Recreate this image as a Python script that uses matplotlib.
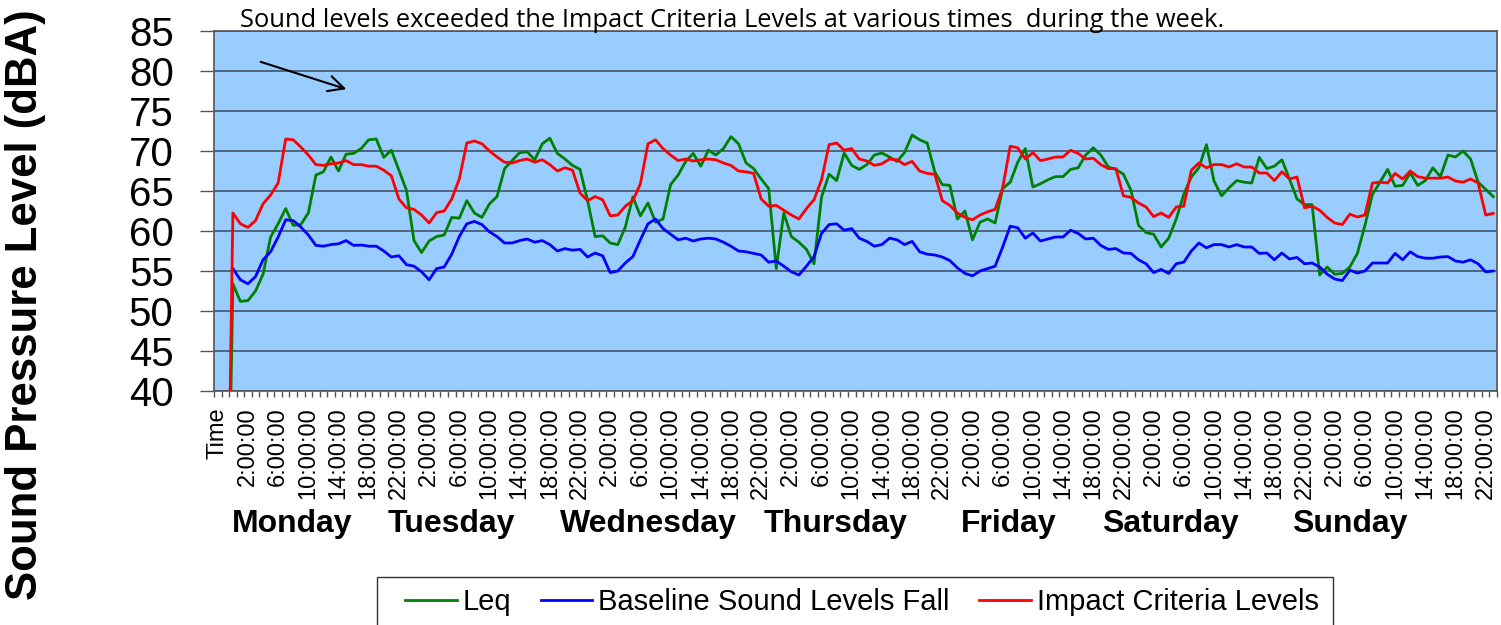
import numpy as np
import matplotlib
matplotlib.use('Agg')
import matplotlib.pyplot as plt
from matplotlib.patches import Rectangle

plt.rcParams['font.family'] = ['Liberation Sans', 'DejaVu Sans']

nan = np.nan

# spreadsheet rows ahead of the hourly data: "Time" header (blank) and a row read as 0
LEQ_HEAD = [nan, 0.0]
BASELINE_HEAD = [nan, nan]
IMPACT_HEAD = [nan, 0.0]

# hourly readings, Monday 0:00 .. Sunday 23:00 (dBA)
LEQ = [
    53.4, 51.2, 51.3, 52.5, 54.6, 59.25, 60.9, 62.8, 60.7, 60.8, 62.25, 67.0,
    67.4, 69.25, 67.5, 69.6, 69.7, 70.3, 71.4, 71.5, 69.2, 70.1, 67.6, 65.1,
    58.8, 57.3, 58.75, 59.3, 59.5, 61.7, 61.6, 63.8, 62.25, 61.7, 63.4, 64.3,
    67.8, 68.8, 69.8, 69.9, 68.9, 70.9, 71.6, 69.7, 69.0, 68.2, 67.7, 63.8,
    59.3, 59.4, 58.5, 58.3, 60.5, 64.25, 61.9, 63.5, 61.1, 61.5, 65.8, 67.0,
    68.7, 69.7, 68.1, 70.1, 69.5, 70.3, 71.8, 70.9, 68.5, 67.8, 66.5, 65.3,
    55.3, 62.25, 59.3, 58.6, 57.7, 55.9, 64.25, 67.1, 66.3, 69.75, 68.2, 67.7,
    68.3, 69.5, 69.75, 69.25, 68.7, 69.8, 72.0, 71.4, 71.0, 67.4, 65.8, 65.7,
    61.5, 62.5, 58.9, 61.1, 61.5, 61.0, 65.3, 66.1, 68.6, 70.3, 65.5, 65.9,
    66.4, 66.8, 66.8, 67.7, 67.9, 69.5, 70.4, 69.5, 68.0, 67.7, 67.1, 65.1,
    60.7, 59.8, 59.6, 58.0, 59.1, 61.5, 64.6, 66.75, 67.9, 70.8, 66.25, 64.4,
    65.4, 66.3, 66.1, 66.0, 69.2, 67.8, 68.1, 68.9, 66.5, 64.0, 63.3, 63.3,
    54.5, 55.5, 54.6, 54.7, 55.5, 57.2, 60.7, 64.6, 66.1, 67.7, 65.6, 65.7,
    67.25, 65.7, 66.3, 67.9, 66.8, 69.5, 69.25, 70.0, 69.0, 66.1, 65.2, 64.3,
]

BASELINE = [
    55.3, 53.9, 53.4, 54.3, 56.4, 57.4, 59.25, 61.4, 61.3, 60.5, 59.5, 58.2,
    58.1, 58.3, 58.4, 58.8, 58.2, 58.25, 58.1, 58.1, 57.5, 56.75, 56.9, 55.8,
    55.6, 54.9, 53.9, 55.3, 55.5, 57.1, 59.3, 60.9, 61.2, 60.8, 59.9, 59.3,
    58.5, 58.5, 58.8, 59.0, 58.6, 58.8, 58.3, 57.5, 57.8, 57.6, 57.7, 56.75,
    57.25, 56.9, 54.8, 55.0, 56.0, 56.8, 58.9, 60.9, 61.5, 60.3, 59.6, 58.9,
    59.1, 58.75, 59.0, 59.1, 59.0, 58.6, 58.1, 57.5, 57.4, 57.2, 57.0, 56.1,
    56.25, 55.6, 54.9, 54.5, 55.6, 56.8, 59.7, 60.8, 60.9, 60.1, 60.3, 59.1,
    58.7, 58.1, 58.3, 59.1, 58.9, 58.3, 58.7, 57.4, 57.1, 57.0, 56.75, 56.3,
    55.4, 54.7, 54.4, 55.0, 55.3, 55.6, 58.0, 60.6, 60.4, 59.1, 59.75, 58.75,
    59.0, 59.25, 59.25, 60.1, 59.7, 59.0, 59.1, 58.2, 57.7, 57.8, 57.25, 57.2,
    56.4, 55.9, 54.8, 55.2, 54.7, 55.9, 56.1, 57.5, 58.5, 57.9, 58.3, 58.3,
    58.0, 58.3, 58.0, 58.0, 57.2, 57.25, 56.4, 57.25, 56.5, 56.7, 55.9, 56.0,
    55.5, 54.6, 54.0, 53.8, 55.1, 54.75, 55.0, 56.0, 56.0, 56.0, 57.2, 56.4,
    57.4, 56.8, 56.6, 56.6, 56.75, 56.8, 56.25, 56.1, 56.4, 55.9, 54.9, 55.0,
]

IMPACT = [
    62.25, 60.9, 60.45, 61.3, 63.4, 64.5, 66.0, 71.5, 71.4, 70.5, 69.5, 68.3,
    68.2, 68.4, 68.5, 68.8, 68.3, 68.3, 68.1, 68.1, 67.6, 66.9, 64.0, 62.9,
    62.7, 62.0, 61.0, 62.3, 62.5, 64.0, 66.5, 71.0, 71.25, 70.9, 70.0, 69.25,
    68.6, 68.5, 68.8, 69.0, 68.6, 68.9, 68.3, 67.5, 67.9, 67.6, 64.75, 63.8,
    64.3, 63.9, 61.9, 62.0, 63.1, 63.8, 65.9, 70.9, 71.4, 70.3, 69.5, 68.8,
    69.0, 68.75, 68.9, 69.0, 68.9, 68.5, 68.2, 67.5, 67.4, 67.2, 64.0, 63.1,
    63.2, 62.6, 62.0, 61.5, 62.8, 63.9, 66.4, 70.8, 71.0, 70.1, 70.3, 69.0,
    68.75, 68.2, 68.4, 69.0, 68.9, 68.3, 68.7, 67.5, 67.2, 67.1, 63.8, 63.2,
    62.25, 61.7, 61.4, 62.0, 62.4, 62.7, 65.4, 70.6, 70.4, 69.0, 69.8, 68.8,
    69.0, 69.25, 69.25, 70.1, 69.7, 69.0, 69.1, 68.3, 67.8, 67.8, 64.4, 64.2,
    63.5, 63.0, 61.8, 62.25, 61.7, 63.0, 63.1, 67.6, 68.5, 67.9, 68.3, 68.3,
    68.0, 68.4, 68.0, 68.0, 67.25, 67.25, 66.3, 67.4, 66.5, 66.75, 62.9, 63.1,
    62.6, 61.7, 61.0, 60.8, 62.1, 61.75, 62.0, 66.0, 66.1, 66.0, 67.2, 66.5,
    67.5, 66.8, 66.6, 66.6, 66.6, 66.75, 66.25, 66.1, 66.5, 66.0, 62.0, 62.2,
]

HOUR_LABELS = ['2:00:00', '6:00:00', '10:00:00', '14:00:00', '18:00:00', '22:00:00']
DAYS = ['Monday', 'Tuesday', 'Wednesday', 'Thursday', 'Friday', 'Saturday', 'Sunday']
TICK_LABELS = ['Time'] + HOUR_LABELS * len(DAYS)
Y_TICKS = [40, 45, 50, 55, 60, 65, 70, 75, 80, 85]

SERIES = [
    ('Leq', LEQ_HEAD + LEQ, '#008000'),
    ('Baseline Sound Levels Fall', BASELINE_HEAD + BASELINE, '#0000FF'),
    ('Impact Criteria Levels', IMPACT_HEAD + IMPACT, '#FF0000'),
]

# ── layout (figure pixels) ────────────────────────────────────────────────
W, H = 1501, 625
L, R, T, B = 214, 1497, 31, 391
DAY_X = [292, 451, 648, 836, 1009, 1170, 1350]

fig = plt.figure(figsize=(W / 100, H / 100), dpi=100)
ax = fig.add_axes([L / W, 1 - B / H, (R - L) / W, (B - T) / H])
ax.set_facecolor('#99CCFF')

n = len(SERIES[0][1])
x = np.arange(n)
for name, vals, col in SERIES:
    ax.plot(x, vals, color=col, lw=2.0, label=name, zorder=3)

ax.set_xlim(-0.5, n - 0.5)
ax.set_ylim(Y_TICKS[0], Y_TICKS[-1])
ax.set_yticks(Y_TICKS)
ax.set_yticklabels([str(v) for v in Y_TICKS], fontsize=29)
ax.yaxis.grid(True, color='#44546A', lw=1.2, zorder=1)
ax.set_axisbelow(True)

ax.set_xticks(x[::4])
ax.set_xticklabels(TICK_LABELS, rotation=90, fontsize=17, va='top', ha='center')
ax.set_xticks(np.arange(n + 1) - 0.5, minor=True)
ax.tick_params(axis='x', which='major', length=0, pad=12)
ax.tick_params(axis='x', which='minor', length=4, color='#555555', width=1)
ax.tick_params(axis='y', length=10, color='#555555', width=1, pad=19)

for sp in ax.spines.values():
    sp.set_color('#555555')
    sp.set_linewidth(1.2)

fig.text(26 / W, 1 - 305 / H, 'Sound Pressure Level (dBA)', rotation=90,
         fontsize=31.5, fontweight='bold', ha='center', va='center')

for day, px in zip(DAYS, DAY_X):
    fig.text(px / W, 1 - 524 / H, day, fontsize=23, fontweight='bold',
             ha='center', va='center')

fig.text(240 / W, 1 - 27 / H,
         'Sound levels exceeded the Impact Criteria Levels at various times  during the week.',
         fontsize=18.4, family=['Open Sans', 'DejaVu Sans'], ha='left', va='baseline')

ax.annotate('', xy=(349, H - 90), xycoords='figure pixels',
            xytext=(258, H - 61), textcoords='figure pixels',
            arrowprops=dict(arrowstyle='->', color='black', lw=1.5, mutation_scale=28))

# legend box runs off the bottom edge, as in the original
fig.patches.append(Rectangle((377 / W, -0.05), (1333 - 377) / W, 1 - 577 / H + 0.05,
                             transform=fig.transFigure, facecolor='white',
                             edgecolor='#333333', lw=1.0, zorder=0))
leg = fig.legend(loc='center left', bbox_to_anchor=(405 / W, 1 - 602 / H), ncol=3,
                 fontsize=21, frameon=False, borderpad=0, borderaxespad=0,
                 handlelength=1.78, handletextpad=0.2, columnspacing=1.0)

fig.savefig('out.png', dpi=100)
